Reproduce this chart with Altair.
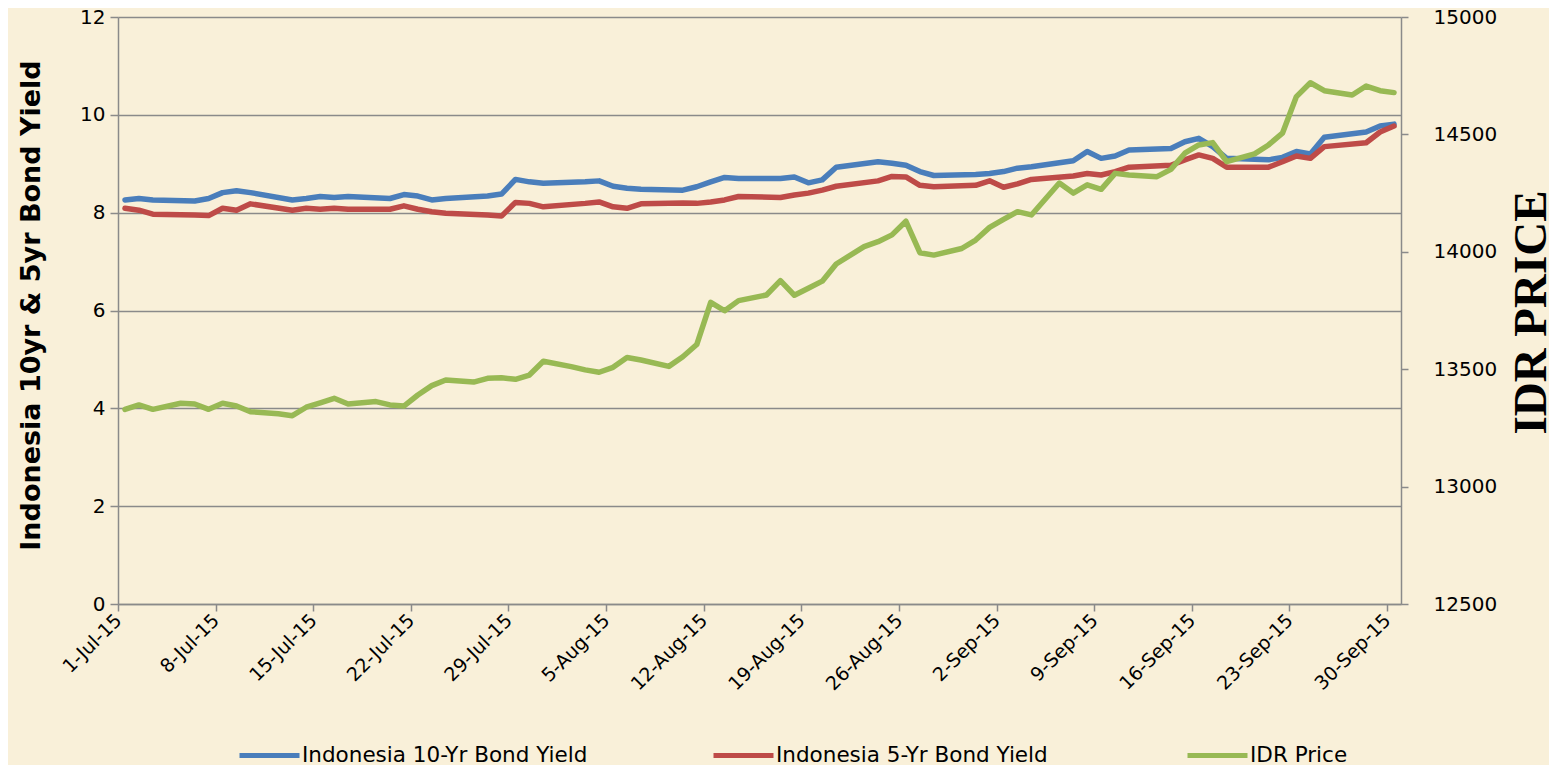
import json
import altair as alt
import pandas as pd

# ---------------- data ----------------
bond_dates = [
    "2015-07-01", "2015-07-02", "2015-07-03", "2015-07-06", "2015-07-07", "2015-07-08", "2015-07-09", "2015-07-10",
    "2015-07-13", "2015-07-14", "2015-07-15", "2015-07-16", "2015-07-17",
    "2015-07-20", "2015-07-21", "2015-07-22", "2015-07-23", "2015-07-24",
    "2015-07-27", "2015-07-28", "2015-07-29", "2015-07-30", "2015-07-31",
    "2015-08-03", "2015-08-04", "2015-08-05", "2015-08-06", "2015-08-07",
    "2015-08-10", "2015-08-11", "2015-08-12", "2015-08-13", "2015-08-14",
    "2015-08-17", "2015-08-18", "2015-08-19", "2015-08-20", "2015-08-21",
    "2015-08-24", "2015-08-25", "2015-08-26", "2015-08-27", "2015-08-28",
    "2015-08-31", "2015-09-01", "2015-09-02", "2015-09-03", "2015-09-04",
    "2015-09-07", "2015-09-08", "2015-09-09", "2015-09-10", "2015-09-11",
    "2015-09-14", "2015-09-15", "2015-09-16", "2015-09-17", "2015-09-18",
    "2015-09-21", "2015-09-22", "2015-09-23", "2015-09-24", "2015-09-25",
    "2015-09-28", "2015-09-29", "2015-09-30",
]
yield_10y = [
    8.26, 8.29, 8.26, 8.24, 8.29, 8.41, 8.45, 8.41,
    8.26, 8.29, 8.33, 8.31, 8.33,
    8.29, 8.37, 8.34, 8.26, 8.29,
    8.34, 8.38, 8.68, 8.63, 8.60,
    8.63, 8.65, 8.54, 8.50, 8.48,
    8.46, 8.53, 8.63, 8.72, 8.70,
    8.70, 8.73, 8.61, 8.67, 8.93,
    9.04, 9.01, 8.97, 8.84, 8.76,
    8.78, 8.80, 8.84, 8.91, 8.94,
    9.06, 9.25, 9.11, 9.16, 9.28,
    9.31, 9.45, 9.52, 9.35, 9.11,
    9.08, 9.13, 9.25, 9.20, 9.54,
    9.65, 9.77, 9.81,
]
yield_5y = [
    8.09, 8.05, 7.97, 7.95, 7.94, 8.09, 8.05, 8.18,
    8.05, 8.09, 8.07, 8.09, 8.07,
    8.07, 8.14, 8.07, 8.02, 7.99,
    7.95, 7.93, 8.21, 8.19, 8.12,
    8.19, 8.22, 8.12, 8.09, 8.18,
    8.20, 8.19, 8.22, 8.26, 8.33,
    8.31, 8.36, 8.40, 8.46, 8.54,
    8.65, 8.74, 8.73, 8.56, 8.53,
    8.56, 8.65, 8.52, 8.59, 8.68,
    8.75, 8.80, 8.77, 8.84, 8.93,
    8.97, 9.08, 9.18, 9.11, 8.93,
    8.93, 9.04, 9.16, 9.11, 9.35,
    9.43, 9.65, 9.77,
]
idr_dates = [
    "2015-07-01", "2015-07-02", "2015-07-03", "2015-07-05", "2015-07-06", "2015-07-07", "2015-07-08", "2015-07-09",
    "2015-07-10", "2015-07-12", "2015-07-13", "2015-07-14", "2015-07-15", "2015-07-16", "2015-07-17", "2015-07-19",
    "2015-07-20", "2015-07-21", "2015-07-22", "2015-07-23", "2015-07-24", "2015-07-26", "2015-07-27", "2015-07-28",
    "2015-07-29", "2015-07-30", "2015-07-31", "2015-08-02", "2015-08-03", "2015-08-04", "2015-08-05", "2015-08-06",
    "2015-08-07", "2015-08-09", "2015-08-10", "2015-08-11", "2015-08-12", "2015-08-13", "2015-08-14", "2015-08-16",
    "2015-08-17", "2015-08-18", "2015-08-19", "2015-08-20", "2015-08-21", "2015-08-23", "2015-08-24", "2015-08-25",
    "2015-08-26", "2015-08-27", "2015-08-28", "2015-08-30", "2015-08-31", "2015-09-01", "2015-09-02", "2015-09-03",
    "2015-09-04", "2015-09-06", "2015-09-07", "2015-09-08", "2015-09-09", "2015-09-10", "2015-09-11", "2015-09-13",
    "2015-09-14", "2015-09-15", "2015-09-16", "2015-09-17", "2015-09-18", "2015-09-20", "2015-09-21", "2015-09-22",
    "2015-09-23", "2015-09-24", "2015-09-25", "2015-09-27", "2015-09-28", "2015-09-29", "2015-09-30",
]
idr_price = [
    13329, 13348, 13329, 13355, 13352, 13329, 13355, 13343,
    13319, 13310, 13302, 13338, 13357, 13376, 13352, 13362,
    13348, 13343, 13390, 13430, 13454, 13445, 13461, 13464,
    13457, 13475, 13534, 13511, 13497, 13487, 13508, 13550,
    13539, 13512, 13553, 13605, 13785, 13749, 13792, 13816,
    13877, 13815, 13845, 13875, 13948, 14022, 14043, 14072,
    14130, 13996, 13986, 14014, 14050, 14104, 14138, 14171,
    14157, 14293, 14250, 14285, 14266, 14334, 14327, 14320,
    14351, 14420, 14455, 14465, 14384, 14417, 14455, 14505,
    14661, 14720, 14686, 14668, 14706, 14686, 14678,
]
x_tick_labels = [
    "1-Jul-15", "8-Jul-15", "15-Jul-15", "22-Jul-15", "29-Jul-15", "5-Aug-15", "12-Aug-15",
    "19-Aug-15", "26-Aug-15", "2-Sep-15", "9-Sep-15", "16-Sep-15", "23-Sep-15", "30-Sep-15",
]
series_names = ["Indonesia 10-Yr Bond Yield", "Indonesia 5-Yr Bond Yield", "IDR Price"]
series_colors = ["#4A7EBB", "#BE4B48", "#98B954"]
left_ticks = [0, 2, 4, 6, 8, 10, 12]
right_ticks = [12500, 13000, 13500, 14000, 14500, 15000]

# ---------------- frames ----------------
start = pd.Timestamp("2015-07-01")
bd = pd.to_datetime(pd.Series(bond_dates))
bond_day = ((bd - start).dt.days + 0.5).tolist()
bonds = pd.concat([
    pd.DataFrame({"day": bond_day, "value": yield_10y, "series": series_names[0]}),
    pd.DataFrame({"day": bond_day, "value": yield_5y, "series": series_names[1]}),
])
idd = pd.to_datetime(pd.Series(idr_dates))
idr = pd.DataFrame({"day": ((idd - start).dt.days + 0.5).tolist(), "idr": idr_price, "series": series_names[2]})

FONT = "DejaVu Sans"
GRID = "#8A8A8A"

label_expr = json.dumps(x_tick_labels) + "[round(datum.value / 7)]"

x_enc = alt.X(
    "day:Q",
    scale=alt.Scale(domain=[0, 92], nice=False, zero=False),
    axis=alt.Axis(
        values=list(range(0, 92, 7)), labelExpr=label_expr, labelAngle=315,
        labelAlign="right", labelBaseline="middle", labelPadding=6, tickSize=7,
        labelFont=FONT, labelFontSize=19, labelColor="black", title=None, grid=False,
        domainColor=GRID, domainWidth=1.5, tickColor=GRID, tickWidth=1.5,
    ),
)

color_enc = alt.Color(
    "series:N",
    scale=alt.Scale(domain=series_names, range=series_colors),
    legend=alt.Legend(
        title=None, orient="none", legendX=119, legendY=706, direction="horizontal",
        columns=3, gridAlign="all", columnPadding=115, symbolType="stroke",
        symbolSize=3600, symbolStrokeWidth=5, labelFont=FONT, labelFontSize=21.5,
        labelColor="black", labelOffset=0, labelLimit=600,
    ),
)

left = alt.Chart(bonds).mark_line(strokeWidth=5.5, strokeJoin="round", strokeCap="round").encode(
    x=x_enc,
    y=alt.Y(
        "value:Q",
        scale=alt.Scale(domain=[0, 12], nice=False),
        axis=alt.Axis(
            values=left_ticks, grid=True, gridColor=GRID, gridWidth=1.5,
            domainColor=GRID, domainWidth=1.5, tickColor=GRID, tickWidth=1.5, tickSize=8,
            labelFont=FONT, labelFontSize=20, labelColor="black", labelPadding=5,
            title="Indonesia 10yr & 5yr Bond Yield", titleFont=FONT, titleFontSize=27,
            titleFontWeight="bold", titleColor="black", titleX=-87, titleY=288,
            titleAngle=270, titleAlign="center", titleBaseline="middle",
        ),
    ),
    color=color_enc,
)

right = alt.Chart(idr).mark_line(strokeWidth=5.5, strokeJoin="round", strokeCap="round").encode(
    x=x_enc,
    y=alt.Y(
        "idr:Q",
        scale=alt.Scale(domain=[12500, 15000], nice=False, zero=False),
        axis=alt.Axis(
            orient="right", values=right_ticks, grid=False, format="d",
            domainColor=GRID, domainWidth=1.5, tickColor=GRID, tickWidth=1.5, tickSize=7,
            labelFont=FONT, labelFontSize=20, labelColor="black", labelPadding=25,
            title="IDR PRICE", titleFont="Liberation Serif", titleFontSize=47,
            titleFontWeight="bold", titleColor="black", titleX=130, titleY=295,
            titleAngle=270, titleAlign="center", titleBaseline="middle",
        ),
    ),
    color=alt.Color("series:N"),
)

chart = (
    alt.layer(left, right)
    .resolve_scale(y="independent")
    .properties(
        width=1283, height=587,
        autosize=alt.AutoSizeParams(type="none"),
        padding={"left": 110, "top": 9, "right": 148, "bottom": 161},
        background="#F9F0D9",
    )
    .configure_view(stroke=None)
)

chart.save("out.html", embed_options={"renderer": "svg", "actions": False})
